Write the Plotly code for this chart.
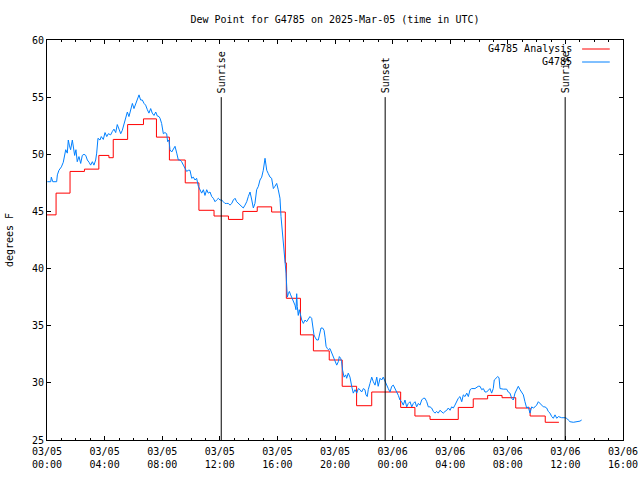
import pandas as pd
import plotly.graph_objects as go

BASE = pd.Timestamp("2025-03-05 00:00")

# Observations (hours since 03/05 00:00 UTC, dew point F)
obs = [
    (0.02, 47.6), (0.26, 47.6), (0.30, 48.0), (0.40, 47.6), (0.67, 47.6), (0.72, 48.2),
    (0.83, 48.6), (1.00, 48.9), (1.13, 49.3), (1.23, 49.8), (1.30, 50.4), (1.41, 50.1),
    (1.48, 51.25), (1.55, 50.8), (1.64, 50.4), (1.76, 51.25), (1.83, 50.5), (1.92, 49.9),
    (2.01, 50.4), (2.10, 49.35), (2.22, 49.8), (2.34, 49.2), (2.45, 49.9), (2.57, 50.0),
    (2.69, 49.9), (2.80, 49.5), (2.92, 49.3), (3.03, 49.05), (3.15, 49.35), (3.26, 49.05),
    (3.38, 49.5), (3.45, 50.1), (3.54, 51.4), (3.68, 51.25), (3.77, 51.55), (3.91, 51.3),
    (4.03, 51.9), (4.15, 51.55), (4.26, 51.8), (4.42, 51.7), (4.54, 52.0), (4.65, 52.2),
    (4.77, 51.9), (4.88, 52.6), (5.00, 52.2), (5.12, 51.8), (5.23, 52.1), (5.35, 52.7),
    (5.46, 53.3), (5.58, 53.7), (5.69, 53.3), (5.81, 54.0), (5.93, 54.45), (6.04, 54.0),
    (6.16, 54.45), (6.27, 54.9), (6.39, 55.2), (6.50, 54.75), (6.62, 54.75), (6.74, 54.45),
    (6.85, 54.3), (6.97, 53.9), (7.08, 53.6), (7.20, 54.0), (7.31, 53.6), (7.43, 53.4),
    (7.55, 53.7), (7.66, 53.35), (7.78, 53.3), (7.85, 53.15), (7.96, 52.7), (8.08, 51.8),
    (8.19, 51.9), (8.31, 51.8), (8.38, 51.1), (8.47, 51.25), (8.54, 50.4), (8.66, 50.2),
    (8.77, 50.5), (8.89, 50.7), (9.01, 50.1), (9.12, 49.5), (9.24, 49.5), (9.35, 49.35),
    (9.47, 49.05), (9.58, 48.8), (9.70, 48.5), (9.81, 48.6), (9.93, 48.6), (10.05, 47.9),
    (10.16, 48.0), (10.28, 47.75), (10.39, 47.9), (10.51, 47.2), (10.63, 46.9), (10.74, 46.6),
    (10.86, 46.9), (10.97, 46.4), (11.09, 46.9), (11.20, 46.6), (11.32, 46.7), (11.44, 46.3),
    (11.55, 46.15), (11.67, 45.85), (11.78, 46.0), (11.90, 46.15), (12.01, 46.0), (12.13, 46.0),
    (12.24, 45.85), (12.36, 45.7), (12.48, 45.7), (12.59, 45.7), (12.71, 45.55), (12.83, 45.7),
    (12.94, 46.0), (13.06, 46.15), (13.17, 45.85), (13.29, 45.7), (13.40, 45.55), (13.52, 45.4),
    (13.63, 45.3), (13.75, 45.55), (13.87, 45.85), (13.98, 46.3), (14.10, 46.7), (14.22, 46.0),
    (14.33, 45.3), (14.44, 45.7), (14.56, 46.9), (14.68, 47.2), (14.79, 47.75), (14.91, 48.0),
    (15.02, 48.6), (15.14, 49.65), (15.26, 48.6), (15.37, 48.3), (15.49, 48.0), (15.60, 47.9),
    (15.72, 47.0), (15.83, 47.2), (15.95, 47.45), (16.06, 46.9), (16.18, 46.15), (16.25, 44.55),
    (16.41, 42.5), (16.46, 41.6), (16.53, 40.75), (16.60, 39.6), (16.65, 38.4), (16.69, 37.5),
    (16.76, 37.8), (16.83, 38.0), (16.92, 37.7), (16.99, 37.5), (17.06, 37.25), (17.15, 37.1),
    (17.22, 36.8), (17.29, 36.4), (17.34, 37.8), (17.38, 36.7), (17.45, 35.9), (17.52, 36.4),
    (17.62, 35.8), (17.69, 35.5), (17.80, 35.2), (17.92, 35.5), (18.03, 35.35), (18.15, 35.65),
    (18.26, 35.8), (18.38, 35.65), (18.45, 34.9), (18.54, 34.2), (18.61, 34.0), (18.73, 33.75),
    (18.84, 33.75), (18.96, 34.3), (19.03, 34.8), (19.14, 34.8), (19.24, 34.6), (19.31, 34.0),
    (19.38, 33.2), (19.47, 33.0), (19.54, 32.9), (19.65, 33.0), (19.77, 32.6), (19.88, 32.4),
    (20.00, 32.0), (20.12, 31.55), (20.23, 31.85), (20.30, 32.3), (20.39, 32.15), (20.46, 31.85),
    (20.53, 31.1), (20.63, 30.5), (20.74, 30.7), (20.81, 30.4), (20.92, 30.85), (21.04, 30.5),
    (21.16, 29.7), (21.27, 29.1), (21.39, 29.4), (21.51, 29.1), (21.62, 29.5), (21.74, 29.4),
    (21.85, 29.2), (21.97, 29.5), (22.08, 29.4), (22.15, 28.95), (22.24, 28.8), (22.31, 29.4),
    (22.43, 29.95), (22.55, 30.5), (22.66, 30.1), (22.78, 29.8), (22.90, 30.5), (23.00, 29.7),
    (23.13, 30.4), (23.24, 30.25), (23.35, 30.5), (23.47, 30.1), (23.59, 29.8), (23.70, 29.5),
    (23.82, 29.2), (23.94, 29.7), (24.05, 29.8), (24.17, 29.5), (24.28, 29.2), (24.40, 28.9),
    (24.51, 28.5), (24.63, 28.35), (24.74, 28.05), (24.86, 28.5), (24.98, 27.9), (25.09, 28.2),
    (25.21, 28.35), (25.33, 27.9), (25.44, 28.2), (25.56, 28.35), (25.67, 27.9), (25.79, 28.2),
    (25.90, 28.05), (26.02, 28.5), (26.13, 28.65), (26.25, 28.65), (26.37, 28.35), (26.48, 27.9),
    (26.60, 27.9), (26.71, 27.8), (26.83, 27.5), (26.94, 27.35), (27.06, 27.5), (27.17, 27.35),
    (27.29, 27.6), (27.41, 27.5), (27.52, 27.35), (27.64, 27.5), (27.76, 27.6), (27.87, 27.8),
    (27.99, 27.6), (28.10, 27.9), (28.22, 27.8), (28.33, 28.05), (28.45, 28.35), (28.56, 28.65),
    (28.68, 28.8), (28.80, 28.35), (28.91, 28.95), (29.03, 28.8), (29.15, 29.1), (29.26, 28.8),
    (29.38, 29.4), (29.49, 29.5), (29.72, 29.5), (29.95, 29.7), (30.07, 29.7), (30.19, 29.4),
    (30.30, 29.5), (30.42, 29.2), (30.53, 29.2), (30.65, 29.4), (30.76, 29.5), (30.88, 29.1),
    (30.99, 29.5), (31.06, 30.25), (31.16, 30.4), (31.30, 30.55), (31.39, 30.45), (31.46, 29.5),
    (31.69, 29.45), (31.92, 29.45), (32.03, 29.2), (32.15, 29.1), (32.27, 28.65), (32.38, 28.5),
    (32.50, 29.1), (32.62, 29.5), (32.73, 29.7), (32.85, 29.4), (32.97, 29.1), (33.08, 28.95),
    (33.19, 28.35), (33.31, 27.8), (33.42, 27.9), (33.54, 27.35), (33.66, 27.9), (33.77, 27.8),
    (33.89, 27.9), (34.00, 28.05), (34.12, 28.35), (34.24, 28.2), (34.35, 28.05), (34.47, 27.9),
    (34.58, 27.9), (34.70, 27.8), (34.81, 27.5), (34.93, 27.35), (35.05, 27.05), (35.16, 26.9),
    (35.28, 27.2), (35.40, 26.9), (35.51, 27.05), (35.74, 26.95), (35.97, 26.95), (36.09, 26.9),
    (36.20, 26.75), (36.32, 26.6), (36.55, 26.55), (36.78, 26.6), (37.01, 26.65), (37.13, 26.75),
]
obs_hours = [h for h, _ in obs]
obs_values = [v for _, v in obs]

# Analysis (step series): hours since 03/05 00:00 UTC, dew point F
ana_hours = [0.0, 0.63, 1.6, 2.6, 3.6, 4.3, 4.6, 5.6, 6.7, 7.6, 8.5, 9.6, 10.55, 11.6,
             12.6, 13.6, 14.6, 15.6, 16.55, 16.62, 17.6, 18.5, 19.6, 20.5, 21.5, 22.55,
             24.56, 25.55, 26.6, 28.56, 29.6, 30.6, 31.6, 32.55, 33.55, 34.6, 35.55]
ana_values = [44.7, 46.6, 48.5, 48.7, 49.9, 49.7, 51.3, 52.6, 53.1, 51.5, 49.5, 47.5, 45.1, 44.6,
              44.3, 45.0, 45.4, 44.95, 40.5, 37.4, 34.2, 32.8, 32.0, 29.7, 28.0, 29.2,
              27.85, 27.1, 26.8, 27.85, 28.6, 28.9, 28.7, 27.8, 27.1, 26.55, 26.55]

sun_labels = ["Sunrise", "Sunset", "Sunrise"]
sun_times = ["2025-03-05 12:06", "2025-03-05 23:29", "2025-03-06 11:59"]

series_names = ["G4785 Analysis", "G4785"]
series_colors = ["#ff0000", "#0080ff"]

FONT = "DejaVu Sans Mono"

def to_time(hours):
    return [BASE + pd.Timedelta(hours=h) for h in hours]

fig = go.Figure()
fig.add_trace(go.Scatter(x=to_time(ana_hours), y=ana_values, mode="lines",
                         line=dict(color=series_colors[0], width=1, shape="hv"),
                         name=series_names[0], showlegend=False))
fig.add_trace(go.Scatter(x=to_time(obs_hours), y=obs_values, mode="lines",
                         line=dict(color=series_colors[1], width=1),
                         name=series_names[1], showlegend=False))

for lab, t in zip(sun_labels, sun_times):
    fig.add_shape(type="line", xref="x", yref="y", x0=t, x1=t, y0=25, y1=55,
                  line=dict(color="black", width=1))
    fig.add_annotation(x=t, y=55, xref="x", yref="y", text=lab, textangle=-90,
                       showarrow=False, xanchor="center", yanchor="bottom", yshift=2,
                       font=dict(family=FONT, size=10, color="black"))

# manual gnuplot-style legend (text left, sample right)
for i, (nm, col) in enumerate(zip(series_names, series_colors)):
    yp = 0.9775 - i * 0.0325
    fig.add_annotation(x=0.915, y=yp, xref="paper", yref="paper", text=nm,
                       showarrow=False, xanchor="right", yanchor="middle",
                       font=dict(family=FONT, size=10, color="black"))
    fig.add_shape(type="line", xref="paper", yref="paper", x0=0.929, x1=0.977,
                  y0=yp, y1=yp, line=dict(color=col, width=1))

fig.update_layout(
    width=640, height=480,
    margin=dict(l=47, r=17, t=40, b=40),
    paper_bgcolor="white", plot_bgcolor="white",
    font=dict(family=FONT, size=10, color="black"),
    title=dict(text="Dew Point for G4785 on 2025-Mar-05 (time in UTC)", x=0.5, xref="paper",
               y=1 - 19 / 480, yanchor="middle", font=dict(family=FONT, size=10)),
    showlegend=False,
)
fig.update_xaxes(
    type="date", range=["2025-03-05 00:00", "2025-03-06 16:00"], automargin=False,
    dtick=4 * 3600 * 1000, tick0="2025-03-05 00:00", tickformat="%m/%d<br>%H:%M",
    ticks="inside", ticklen=4, tickcolor="black", showline=True, linecolor="black",
    linewidth=1, mirror="ticks", showgrid=False, zeroline=False, ticklabelstandoff=2,
    minor=dict(dtick=3600 * 1000, ticks="inside", ticklen=2, tickcolor="black", showgrid=False),
    tickfont=dict(family=FONT, size=10),
)
fig.update_yaxes(
    range=[25, 60], dtick=5, tick0=25, ticks="inside", ticklen=4, tickcolor="black",
    showline=True, linecolor="black", linewidth=1, mirror="ticks", showgrid=False,
    zeroline=False, tickfont=dict(family=FONT, size=10), automargin=False,
    title=dict(text="degrees F", font=dict(family=FONT, size=10), standoff=16),
)

fig.write_html("out.html")
